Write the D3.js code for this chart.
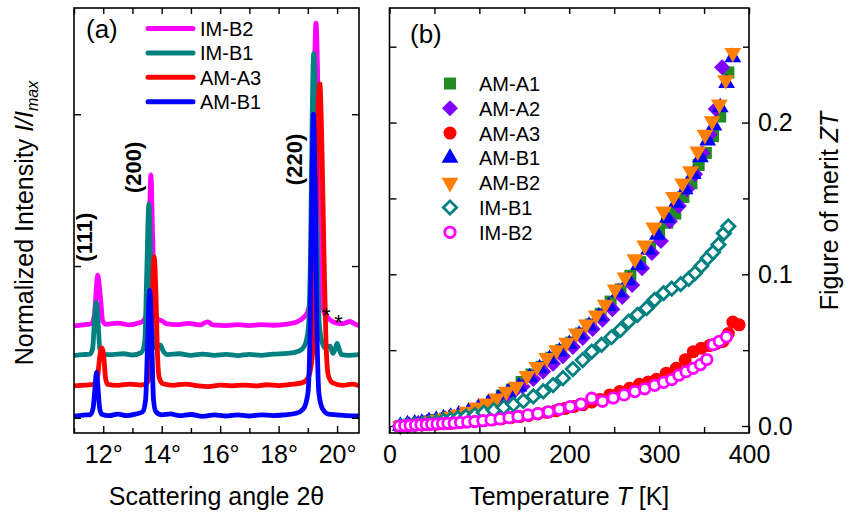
<!DOCTYPE html>
<html>
<head>
<meta charset="utf-8">
<style>
body { margin: 0; background: #fff; }
svg { display: block; font-family: "Liberation Sans", Arial, sans-serif; }
</style>
</head>
<body>
<svg width="845" height="518"></svg>
<script src="https://d3js.org/d3.v7.min.js"></script>
<script>

// ---------- panel (a): XRD patterns, points are [2theta (deg), I/Imax] ----------
var xrdNames = ['IM-B2', 'IM-B1', 'AM-A3', 'AM-B1']
var xrdColors = ['#ff00ff', '#008080', '#ff0000', '#0000ff']
var xrdOffsets = [0.3, 0.2, 0.1, 0]

var xrdIMB2 = [[11.0,0.003],[11.3,0.006],[11.6,0.01],[11.7,0.04],[11.76,0.12],[11.81,0.17],[11.86,0.14],[11.92,0.08],[11.98,0.02],[12.1,0.008],[12.5,0.012],[12.9,0.006],[13.2,0.012],[13.38,0.02],[13.5,0.05],[13.57,0.28],[13.63,0.5],[13.69,0.3],[13.76,0.07],[13.85,0.025],[14.0,0.02],[14.15,0.01],[14.5,0.007],[14.9,0.011],[15.3,0.006],[15.57,0.016],[15.75,0.006],[16.2,0.004],[16.6,0.007],[17.0,0.004],[17.4,0.007],[17.8,0.005],[18.2,0.008],[18.6,0.015],[18.85,0.03],[19.0,0.05],[19.1,0.12],[19.17,0.45],[19.23,0.85],[19.28,1.0],[19.33,0.85],[19.4,0.35],[19.48,0.1],[19.58,0.04],[19.68,0.03],[19.8,0.02],[20.0,0.012],[20.2,0.01],[20.45,0.018],[20.55,0.012],[20.75,0.004]]
var xrdIMB1 = [[11.0,0.005],[11.3,0.008],[11.55,0.01],[11.64,0.03],[11.7,0.12],[11.76,0.18],[11.82,0.12],[11.88,0.03],[11.96,0.01],[12.3,0.008],[12.7,0.011],[13.0,0.007],[13.3,0.015],[13.42,0.05],[13.49,0.28],[13.56,0.505],[13.63,0.28],[13.7,0.06],[13.8,0.03],[13.95,0.04],[14.05,0.02],[14.2,0.008],[14.6,0.011],[15.0,0.006],[15.4,0.01],[15.8,0.006],[16.2,0.009],[16.6,0.005],[17.0,0.009],[17.4,0.006],[17.8,0.01],[18.3,0.012],[18.7,0.02],[18.9,0.04],[19.02,0.1],[19.1,0.4],[19.15,0.8],[19.2,1.0],[19.26,0.8],[19.32,0.35],[19.4,0.1],[19.5,0.045],[19.6,0.03],[19.7,0.035],[19.76,0.036],[19.86,0.012],[19.95,0.03],[20.0,0.045],[20.06,0.03],[20.15,0.008],[20.4,0.006],[20.75,0.008]]
var xrdAMA3 = [[11.0,0.005],[11.4,0.008],[11.7,0.01],[11.8,0.03],[11.88,0.1],[11.95,0.13],[12.02,0.1],[12.08,0.03],[12.15,0.01],[12.5,0.007],[12.9,0.011],[13.3,0.008],[13.5,0.015],[13.6,0.05],[13.67,0.25],[13.74,0.43],[13.8,0.32],[13.86,0.1],[13.92,0.03],[14.05,0.012],[14.4,0.007],[14.8,0.011],[15.2,0.006],[15.6,0.003],[16.0,0.008],[16.4,0.005],[16.8,0.008],[17.2,0.005],[17.6,0.009],[18.0,0.006],[18.4,0.01],[18.8,0.015],[19.0,0.03],[19.15,0.1],[19.25,0.4],[19.33,0.85],[19.41,1.0],[19.48,0.8],[19.55,0.45],[19.62,0.15],[19.7,0.04],[19.85,0.015],[20.2,0.007],[20.5,0.011],[20.75,0.006]]
var xrdAMB1 = [[11.0,0.005],[11.3,0.009],[11.55,0.01],[11.65,0.03],[11.72,0.1],[11.77,0.15],[11.82,0.1],[11.88,0.03],[11.95,0.012],[12.2,0.007],[12.5,0.012],[12.8,0.007],[13.1,0.012],[13.35,0.02],[13.45,0.06],[13.52,0.25],[13.59,0.42],[13.66,0.25],[13.72,0.06],[13.8,0.02],[14.0,0.01],[14.3,0.013],[14.6,0.007],[15.0,0.011],[15.4,0.005],[15.8,0.01],[16.2,0.006],[16.6,0.01],[17.0,0.006],[17.4,0.01],[17.8,0.007],[18.2,0.01],[18.6,0.015],[18.85,0.03],[19.0,0.08],[19.08,0.3],[19.14,0.75],[19.19,1.0],[19.25,0.75],[19.31,0.3],[19.38,0.08],[19.5,0.03],[19.7,0.012],[20.0,0.01],[20.3,0.007],[20.75,0.006]]
var xrdSeries = [xrdIMB2, xrdIMB1, xrdAMA3, xrdAMB1]

var angleMajor = [12, 14, 16, 18, 20]
var angleMinor = [11, 13, 15, 17, 19]
var intensityTicks = [0, 0.5, 1]
var peakLabels = [['(111)', 11.6, 0.595], ['(200)', 13.3, 0.825], ['(220)', 18.8, 0.851]]
var starMarks = [[19.63, 0.312], [20.05, 0.288]]

// ---------- panel (b): figure of merit, points are [T (K), ZT] ----------
var ztNames = ['AM-A1', 'AM-A2', 'AM-A3', 'AM-B1', 'AM-B2', 'IM-B1', 'IM-B2']
var ztColors = ['#228b22', '#8000ff', '#ff0000', '#0000ff', '#ff8000', '#008080', '#ff00ff']
var ztShapes = ['square', 'diamond', 'circle', 'up', 'down', 'hollowDiamond', 'hollowCircle']

var ztAMA1 = [[12,0],[22,0.001],[32,0.002],[42,0.003],[52,0.004],[62,0.005],[72,0.0065],[82,0.008],[92,0.0095],[103,0.012],[114,0.016],[125,0.02],[136,0.024],[147,0.029],[158,0.034],[169,0.039],[180,0.045],[191,0.05],[202,0.055],[213,0.061],[224,0.067],[235,0.074],[246,0.082],[257,0.09],[268,0.099],[279,0.108],[290,0.118],[300,0.128],[309,0.134],[318,0.14],[327,0.151],[336,0.16],[344,0.172],[352,0.18],[360,0.191],[368,0.204],[377,0.233]]
var ztAMA2 = [[12,0],[22,0.001],[32,0.002],[42,0.003],[52,0.004],[62,0.005],[72,0.006],[82,0.0075],[93,0.009],[104,0.0115],[115,0.0145],[126,0.018],[137,0.022],[148,0.026],[160,0.031],[171,0.036],[182,0.041],[193,0.046],[204,0.052],[215,0.058],[226,0.064],[237,0.07],[248,0.077],[259,0.085],[270,0.093],[281,0.104],[292,0.114],[302,0.122],[312,0.135],[322,0.145],[331,0.156],[340,0.166],[348,0.18],[356,0.192],[363,0.209],[370,0.2365]]
var ztAMA3 = [[12,0],[20,0.0002],[28,0.0005],[36,0.0007],[44,0.001],[52,0.0012],[60,0.0015],[68,0.0018],[76,0.0022],[85,0.0026],[95,0.003],[105,0.0036],[115,0.0042],[125,0.0048],[135,0.0055],[145,0.0062],[155,0.007],[165,0.008],[175,0.009],[185,0.01],[195,0.0115],[205,0.0128],[215,0.014],[225,0.0158],[234,0.0175],[245,0.0205],[256,0.0227],[267,0.0249],[278,0.0275],[288,0.029],[297,0.0308],[308,0.0348],[319,0.038],[329,0.0436],[338,0.049],[347,0.0513],[356,0.053],[364,0.0545],[371,0.0557],[377,0.061],[382,0.0685],[389,0.0667]]
var ztAMB1 = [[12,0],[20,0.001],[28,0.0015],[36,0.002],[44,0.003],[52,0.004],[60,0.005],[68,0.006],[77,0.0075],[88,0.0095],[99,0.012],[110,0.015],[121,0.018],[132,0.022],[144,0.026],[156,0.032],[167,0.038],[178,0.044],[189,0.049],[200,0.054],[211,0.06],[222,0.066],[233,0.072],[244,0.079],[255,0.088],[266,0.096],[277,0.106],[288,0.116],[298,0.126],[309,0.137],[319,0.147],[329,0.156],[338,0.166],[346,0.177],[354,0.188],[361,0.198],[368,0.21],[375,0.226],[382,0.243]]
var ztAMB2 = [[12,0],[20,0.001],[28,0.0015],[36,0.002],[44,0.003],[52,0.004],[60,0.005],[68,0.0062],[76,0.0075],[86,0.0095],[97,0.0123],[108,0.015],[119,0.0183],[130,0.0227],[141,0.026],[153,0.033],[164,0.039],[175,0.045],[186,0.05],[197,0.055],[208,0.061],[219,0.067],[230,0.073],[240,0.08],[251,0.09],[262,0.098],[273,0.11],[284,0.119],[294,0.131],[305,0.1415],[316,0.151],[326,0.16],[335,0.168],[343,0.181],[351,0.192],[359,0.201],[367,0.212],[374,0.228],[382,0.246]]
var ztIMB1 = [[12,0],[20,0.0005],[28,0.001],[36,0.0015],[44,0.002],[52,0.0027],[60,0.0035],[68,0.0043],[76,0.0052],[85,0.0062],[95,0.0073],[105,0.0088],[116,0.0104],[127,0.0122],[138,0.0142],[149,0.0165],[160,0.0195],[171,0.0228],[182,0.027],[193,0.0315],[204,0.0375],[215,0.0435],[225,0.049],[236,0.0535],[247,0.0585],[257,0.0634],[266,0.0688],[276,0.0733],[286,0.0777],[295,0.0832],[305,0.0876],[314,0.0905],[324,0.0935],[333,0.097],[340,0.1008],[347,0.1055],[354,0.1107],[360,0.1145],[366,0.1195],[372,0.127],[377,0.1316]]
var ztIMB2 = [[11,0],[17,0.0002],[23,0.0004],[29,0.0006],[35,0.0008],[41,0.001],[47,0.0012],[53,0.0014],[59,0.0016],[65,0.0018],[72,0.002],[79,0.0023],[87,0.0027],[95,0.003],[104,0.0035],[113,0.004],[123,0.0047],[133,0.0055],[143,0.0063],[154,0.0073],[165,0.0082],[177,0.0094],[189,0.011],[201,0.0128],[213,0.0145],[225,0.0183],[237,0.0163],[249,0.0185],[261,0.0205],[273,0.0227],[284,0.0245],[295,0.0268],[305,0.0288],[314,0.0306],[322,0.0335],[330,0.0358],[338,0.038],[346,0.0405],[353,0.0438],[360,0.0536],[367,0.0558],[375,0.0588]]
var ztSeries = [ztAMA1, ztAMA2, ztAMA3, ztAMB1, ztAMB2, ztIMB1, ztIMB2]

var tempMajor = [0, 100, 200, 300, 400]
var tempMinor = [50, 150, 250, 350]
var ztMajor = [0, 0.1, 0.2]
var ztMinor = [0.05, 0.15, 0.25]

var svg = d3.select('svg')
var black = '#000'

// frames
var frameA = { left: 74, right: 359, top: 8, bottom: 433 }
var frameB = { left: 389.5, right: 749, top: 8, bottom: 433 }

// ================= panel (a) =================
var xa = d3.scaleLinear().domain([11, 20.75]).range([frameA.left, frameA.right])
var ya = d3.scaleLinear().domain([-0.05, 1.35]).range([frameA.bottom, frameA.top])

svg.append('clipPath').attr('id', 'clipA')
  .append('rect')
  .attr('x', frameA.left).attr('y', frameA.top)
  .attr('width', frameA.right - frameA.left).attr('height', frameA.bottom - frameA.top)

var gA = svg.append('g')

xrdSeries.forEach(function (pts, i) {
  var line = d3.line()
    .x(function (d) { return xa(d[0]) })
    .y(function (d) { return ya(d[1] + xrdOffsets[i]) })
    .curve(d3.curveMonotoneX)
  gA.append('path')
    .attr('clip-path', 'url(#clipA)')
    .attr('d', line(pts))
    .attr('fill', 'none')
    .attr('stroke', xrdColors[i])
    .attr('stroke-width', 4.8)
    .attr('stroke-linejoin', 'round')
})

function styleAxis(g) {
  g.select('.domain').remove()
  g.selectAll('line').attr('stroke', black).attr('stroke-width', 1.4)
  g.selectAll('text').attr('fill', black).attr('font-size', 25)
    .attr('font-family', '"Liberation Sans", Arial, sans-serif')
}

// bottom / top ticks
gA.append('g').attr('transform', 'translate(0,' + frameA.bottom + ')')
  .call(d3.axisBottom(xa).tickValues(angleMajor).tickSize(-7).tickPadding(12)
    .tickFormat(function (d) { return d + '°' }))
  .call(styleAxis)
gA.append('g').attr('transform', 'translate(0,' + frameA.bottom + ')')
  .call(d3.axisBottom(xa).tickValues(angleMinor).tickSize(-5).tickFormat(''))
  .call(styleAxis)
gA.append('g').attr('transform', 'translate(0,' + frameA.top + ')')
  .call(d3.axisTop(xa).tickValues(angleMajor.concat(angleMinor)).tickSize(-6).tickFormat(''))
  .call(styleAxis)
gA.append('g').attr('transform', 'translate(' + frameA.left + ',0)')
  .call(d3.axisLeft(ya).tickValues(intensityTicks).tickSize(-7).tickFormat(''))
  .call(styleAxis)
gA.append('g').attr('transform', 'translate(' + frameA.right + ',0)')
  .call(d3.axisRight(ya).tickValues(intensityTicks).tickSize(-7).tickFormat(''))
  .call(styleAxis)

gA.append('rect')
  .attr('x', frameA.left).attr('y', frameA.top)
  .attr('width', frameA.right - frameA.left).attr('height', frameA.bottom - frameA.top)
  .attr('fill', 'none').attr('stroke', black).attr('stroke-width', 1.6)

// peak labels
peakLabels.forEach(function (p) {
  gA.append('text')
    .attr('transform', 'translate(' + xa(p[1]) + ',' + ya(p[2]) + ') rotate(-90)')
    .attr('text-anchor', 'middle')
    .attr('font-size', 22).attr('font-weight', 'bold')
    .text(p[0])
})

// impurity asterisks
starMarks.forEach(function (s) {
  gA.append('text')
    .attr('x', xa(s[0])).attr('y', ya(s[1]))
    .attr('text-anchor', 'middle').attr('font-size', 22)
    .text('*')
})

gA.append('text').attr('x', 86).attr('y', 38).attr('font-size', 26).text('(a)')

// legend (a)
xrdNames.forEach(function (name, i) {
  var yy = 28.5 + i * 24.4
  gA.append('line')
    .attr('x1', 148).attr('x2', 193).attr('y1', yy).attr('y2', yy)
    .attr('stroke', xrdColors[i]).attr('stroke-width', 5).attr('stroke-linecap', 'round')
  gA.append('text').attr('x', 200).attr('y', yy + 7.5).attr('font-size', 20).text(name)
})

// axis titles (a)
var yTitleA = gA.append('text')
  .attr('transform', 'translate(33,223) rotate(-90)')
  .attr('text-anchor', 'middle').attr('font-size', 25)
yTitleA.append('tspan').text('Normalized Intensity ')
yTitleA.append('tspan').attr('font-style', 'italic').text('I/I')
yTitleA.append('tspan').attr('font-style', 'italic').attr('font-size', 16).attr('dy', 5).text('max')

gA.append('text')
  .attr('x', (frameA.left + frameA.right) / 2).attr('y', 505)
  .attr('text-anchor', 'middle').attr('font-size', 25)
  .text('Scattering angle 2θ')

// ================= panel (b) =================
var xb = d3.scaleLinear().domain([0, 400]).range([frameB.left, frameB.right])
var yb = d3.scaleLinear().domain([-0.0046, 0.2755]).range([frameB.bottom, frameB.top])

var gB = svg.append('g')

gB.append('g').attr('transform', 'translate(0,' + frameB.bottom + ')')
  .call(d3.axisBottom(xb).tickValues(tempMajor).tickSize(-7).tickPadding(12).tickFormat(d3.format('d')))
  .call(styleAxis)
gB.append('g').attr('transform', 'translate(0,' + frameB.bottom + ')')
  .call(d3.axisBottom(xb).tickValues(tempMinor).tickSize(-6).tickFormat(''))
  .call(styleAxis)
gB.append('g').attr('transform', 'translate(0,' + frameB.top + ')')
  .call(d3.axisTop(xb).tickValues(tempMajor.concat(tempMinor)).tickSize(-6).tickFormat(''))
  .call(styleAxis)
gB.append('g').attr('transform', 'translate(' + frameB.left + ',0)')
  .call(d3.axisLeft(yb).tickValues(ztMajor.concat(ztMinor)).tickSize(-7).tickFormat(''))
  .call(styleAxis)
gB.append('g').attr('transform', 'translate(' + frameB.right + ',0)')
  .call(d3.axisRight(yb).tickValues(ztMajor).tickSize(-7).tickPadding(9).tickFormat(d3.format('.1f')))
  .call(styleAxis)
gB.append('g').attr('transform', 'translate(' + frameB.right + ',0)')
  .call(d3.axisRight(yb).tickValues(ztMinor).tickSize(-6).tickFormat(''))
  .call(styleAxis)

// marker shapes
function markerPath(shape) {
  if (shape === 'square') return d3.symbol().type(d3.symbolSquare).size(144)()
  if (shape === 'diamond') return d3.symbol().type(d3.symbolSquare).size(128)()
  if (shape === 'circle') return d3.symbol().type(d3.symbolCircle).size(133)()
  if (shape === 'up' || shape === 'down') return d3.symbol().type(d3.symbolTriangle).size(122)()
  if (shape === 'hollowDiamond') return d3.symbol().type(d3.symbolSquare).size(88)()
  return d3.symbol().type(d3.symbolCircle).size(86)()
}
function markerRotate(shape) {
  if (shape === 'diamond' || shape === 'hollowDiamond') return ' rotate(45)'
  if (shape === 'down') return ' rotate(180)'
  return ''
}
function styleMarker(sel, i) {
  var hollow = ztShapes[i].indexOf('hollow') === 0
  sel.attr('d', markerPath(ztShapes[i]))
    .attr('fill', hollow ? '#fff' : ztColors[i])
    .attr('stroke', hollow ? ztColors[i] : 'none')
    .attr('stroke-width', hollow ? 2.8 : 0)
}

ztSeries.forEach(function (pts, i) {
  gB.append('g').selectAll('path')
    .data(pts)
    .enter().append('path')
    .attr('transform', function (d) {
      return 'translate(' + xb(d[0]) + ',' + yb(d[1]) + ')' + markerRotate(ztShapes[i])
    })
    .call(styleMarker, i)
})

gB.append('rect')
  .attr('x', frameB.left).attr('y', frameB.top)
  .attr('width', frameB.right - frameB.left).attr('height', frameB.bottom - frameB.top)
  .attr('fill', 'none').attr('stroke', black).attr('stroke-width', 1.6)

gB.append('text').attr('x', 410).attr('y', 43).attr('font-size', 26).text('(b)')

// legend (b)
ztNames.forEach(function (name, i) {
  var yy = 83.5 + i * 24.8
  gB.append('path')
    .attr('transform', 'translate(450,' + yy + ')' + markerRotate(ztShapes[i]))
    .call(styleMarker, i)
  gB.append('text').attr('x', 479).attr('y', yy + 7.5).attr('font-size', 20).text(name)
})

// axis titles (b)
var xTitleB = gB.append('text')
  .attr('x', (frameB.left + frameB.right) / 2).attr('y', 505)
  .attr('text-anchor', 'middle').attr('font-size', 25)
xTitleB.append('tspan').text('Temperature  ')
xTitleB.append('tspan').attr('font-style', 'italic').text('T')
xTitleB.append('tspan').text(' [K]')

var yTitleB = gB.append('text')
  .attr('transform', 'translate(838,211) rotate(-90)')
  .attr('text-anchor', 'middle').attr('font-size', 25)
yTitleB.append('tspan').text('Figure of merit ')
yTitleB.append('tspan').attr('font-style', 'italic').text('ZT')

</script>
</body>
</html>
